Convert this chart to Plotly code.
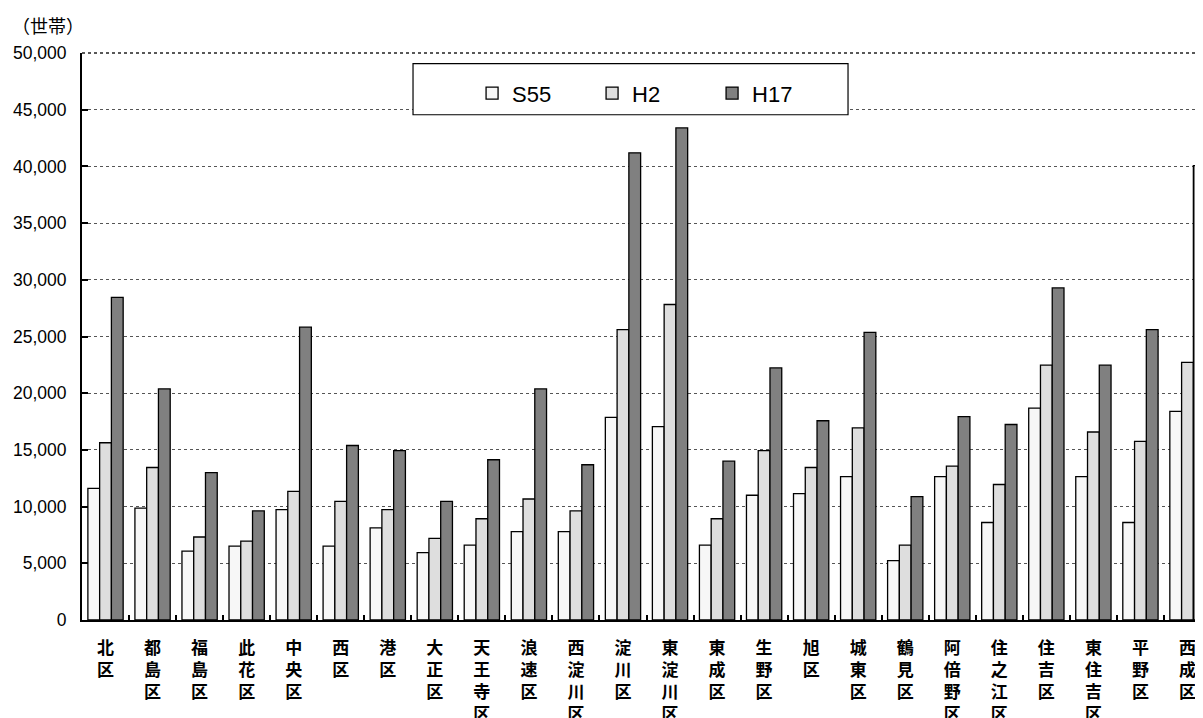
import plotly.graph_objects as go

districts = ["北区", "都島区", "福島区", "此花区", "中央区", "西区", "港区", "大正区",
             "天王寺区", "浪速区", "西淀川区", "淀川区", "東淀川区", "東成区", "生野区",
             "旭区", "城東区", "鶴見区", "阿倍野区", "住之江区", "住吉区", "東住吉区",
             "平野区", "西成区"]
s55 = [11600, 9860, 6070, 6510, 9740, 6510, 8130, 5950, 6600, 7800, 7800, 17870,
       17060, 6600, 11000, 11150, 12640, 5230, 12640, 8600, 18680, 12640, 8600, 18400]
h2 = [15630, 13450, 7320, 6960, 11350, 10460, 9740, 7200, 8930, 10670, 9620, 25610,
      27820, 8930, 14940, 13450, 16940, 6600, 13570, 11950, 22470, 16580, 15750, 22710]
h17 = [28450, 20380, 13000, 9620, 25820, 15390, 14940, 10460, 14130, 20380, 13690, 41200,
       43390, 14010, 22230, 17570, 25370, 10880, 17930, 17240, 29280, 22470, 25610, 40070]
series_names = ["S55", "H2", "H17"]
y_ticks = [0, 5000, 10000, 15000, 20000, 25000, 30000, 35000, 40000, 45000, 50000]
y_title = "（世帯）"

tick_text = ["<br>".join(list(d)) for d in districts]
colors = ["#f7f7f7", "#dedede", "#808080"]

fig = go.Figure()
for name, vals, col in zip(series_names, [s55, h2, h17], colors):
    fig.add_trace(go.Bar(
        x=districts, y=vals, name=name,
        marker=dict(color=col, line=dict(color="#000000", width=1.3)),
    ))

fig.update_layout(
    width=1203, height=718,
    margin=dict(l=74, r=0, t=45, b=106, autoexpand=False),
    paper_bgcolor="white", plot_bgcolor="white",
    barmode="group", bargap=0.25, bargroupgap=0,
    font=dict(family="Liberation Sans, Noto Sans CJK JP", color="#000000", size=18),
    showlegend=True,
    legend=dict(
        orientation="h", x=0.3455, xanchor="left", y=0.929, yanchor="middle",
        bgcolor="rgba(0,0,0,0)", borderwidth=0,
        font=dict(family="Liberation Sans", size=22, color="#000000"),
        entrywidth=75, entrywidthmode="pixels",
    ),
    shapes=[
        dict(type="line", xref="paper", yref="paper", x0=0, x1=1, y0=1, y1=1,
             line=dict(color="#222222", width=1.5, dash="dot")),
        dict(type="rect", xref="paper", yref="paper",
             x0=0.2932, x1=0.6785, y0=0.8911, y1=0.9811,
             line=dict(color="#000000", width=1.2), fillcolor="white", layer="above"),
    ],
    annotations=[dict(text=y_title, xref="paper", yref="paper", x=0, y=1,
                      xanchor="left", yanchor="middle", xshift=-72, yshift=28,
                      showarrow=False,
                      font=dict(family="Noto Sans CJK JP", size=18, color="#000000"))],
)

fig.update_xaxes(
    type="category", range=[-0.5, 23.5], automargin=False,
    tickmode="array", tickvals=districts, ticktext=tick_text,
    tickfont=dict(family="Noto Sans CJK JP", size=17, color="#000000", weight="bold"),
    ticks="inside", tickson="boundaries", ticklen=5, tickwidth=1.5, tickcolor="#000000",
    showline=True, linecolor="#000000", linewidth=1.5, mirror=False,
    showgrid=False, ticklabelstandoff=12,
)
fig.update_yaxes(
    range=[0, 50000], tickmode="array", tickvals=y_ticks, automargin=False,
    ticktext=[f"{v:,}" for v in y_ticks],
    tickfont=dict(family="Liberation Sans", size=17.5, color="#000000"),
    ticks="inside", ticklen=6, tickwidth=2, tickcolor="#000000",
    showline=True, linecolor="#000000", linewidth=2,
    showgrid=True, gridcolor="#555555", gridwidth=1, griddash="dot",
    zeroline=False, ticklabelstandoff=10,
)

fig.write_html("out.html")
